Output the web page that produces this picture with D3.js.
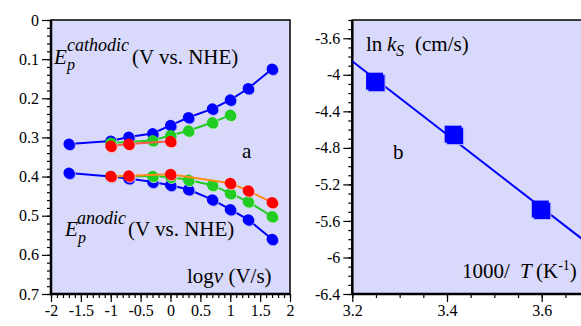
<!DOCTYPE html>
<html>
<head>
<meta charset="utf-8">
<script src="https://cdn.jsdelivr.net/npm/d3@7"></script>
<style>
  body { margin: 0; background: #fff; }
  svg text { font-family: "Liberation Serif", "Times New Roman", serif !important; fill: #000; }
</style>
</head>
<body>
<script>
// ---- data (panel a): peak potential vs log scan rate ----
const logV      = [-1.7, -1, -0.7, -0.3, 0, 0.3, 0.7, 1, 1.3, 1.7];
const blueCath  = [0.317, 0.309, 0.299, 0.290, 0.269, 0.249, 0.227, 0.204, 0.175, 0.125];
const blueAnod  = [0.391, 0.400, 0.405, 0.414, 0.422, 0.433, 0.459, 0.484, 0.510, 0.560];

const greenCathV = [-1, -0.3, 0, 0.3, 0.7, 1];
const greenCath  = [0.314, 0.308, 0.295, 0.283, 0.262, 0.243];
const greenAnodV = [-1, -0.3, 0, 0.3, 0.7, 1, 1.3, 1.7];
const greenAnod  = [0.399, 0.399, 0.401, 0.409, 0.422, 0.443, 0.464, 0.502];

const redCathV = [-1, -0.7, 0];
const redCath  = [0.322, 0.317, 0.310];
const redAnodV = [-1, -0.7, 0, 1, 1.3, 1.7];
const redAnod  = [0.399, 0.398, 0.394, 0.417, 0.436, 0.466];

// ---- data (panel b): ln ks vs 1000/T ----
const invT = [3.247, 3.413, 3.597];
const lnKs = [-4.07, -4.65, -5.47];

// tick labels
const aXTicks = [-2, -1.5, -1, -0.5, 0, 0.5, 1, 1.5, 2];
const aYTicks = [0, 0.1, 0.2, 0.3, 0.4, 0.5, 0.6, 0.7];
const bXTicks = [3.2, 3.4, 3.6];
const bYTicks = [-6.4, -6, -5.6, -5.2, -4.8, -4.4, -4, -3.6];

const W = 581, H = 326;
const bg = "#d9d9fb";
const serif = "'Liberation Serif', 'Times New Roman', serif";

const svg = d3.select("body").append("svg")
  .attr("width", W).attr("height", H);

// scales
const xA = d3.scaleLinear().domain([-2, 2]).range([51, 290]);
const yA = d3.scaleLinear().domain([0, 0.7]).range([20, 294]);
const xB = d3.scaleLinear().domain([3.2, 3.8]).range([352.3, 352.3 + 0.6 * 473.5]);
const yB = d3.scaleLinear().domain([-6.4, -3.4]).range([294, 20]);

function steps(a, b, s) {
  const n = Math.round((b - a) / s);
  return d3.range(n + 1).map(i => a + i * s);
}

function panel(x, y, xt, yt, xMinor, yMinor, id) {
  const [x0, x1] = x.range();
  const top = Math.min(...y.range()), bot = Math.max(...y.range());
  svg.append("rect")
    .attr("x", x0).attr("y", top)
    .attr("width", x1 - x0).attr("height", bot - top)
    .attr("fill", bg).attr("stroke", "#000").attr("stroke-width", 1.5);

  svg.append("clipPath").attr("id", id)
    .append("rect").attr("x", x0).attr("y", top)
    .attr("width", x1 - x0).attr("height", bot - top);

  const gx = svg.append("g").attr("transform", `translate(0,${bot})`);
  gx.call(d3.axisBottom(x).tickValues(xMinor).tickSize(4).tickFormat(""));
  gx.select(".domain").remove();
  const gx2 = svg.append("g").attr("transform", `translate(0,${bot})`);
  gx2.call(d3.axisBottom(x).tickValues(xt).tickSize(8).tickPadding(3).tickFormat(d => String(d)));
  gx2.select(".domain").remove();

  const gy = svg.append("g").attr("transform", `translate(${x0},0)`);
  gy.call(d3.axisLeft(y).tickValues(yMinor).tickSize(4).tickFormat(""));
  gy.select(".domain").remove();
  const gy2 = svg.append("g").attr("transform", `translate(${x0},0)`);
  gy2.call(d3.axisLeft(y).tickValues(yt).tickSize(9).tickPadding(3).tickFormat(d => String(d)));
  gy2.select(".domain").remove();

  [gx, gx2, gy, gy2].forEach(g => g.attr("font-family", serif).attr("font-size", 16));
  svg.selectAll(".tick text").style("font-family", serif).attr("font-size", 16);
  svg.selectAll(".tick line").attr("stroke-width", 1.2);

  // heavy left + bottom axis lines
  svg.append("line").attr("x1", x0).attr("x2", x0).attr("y1", top).attr("y2", bot + 1)
    .attr("stroke", "#000").attr("stroke-width", 2.5);
  svg.append("line").attr("x1", x0 - 1).attr("x2", x1).attr("y1", bot).attr("y2", bot)
    .attr("stroke", "#000").attr("stroke-width", 2.5);
}

panel(xA, yA, aXTicks, aYTicks, steps(-2, 2, 0.1), steps(0, 0.7, 0.02), "clipA");
panel(xB, yB, bXTicks, bYTicks, steps(3.2, 3.8, 0.05), steps(-6.4, -3.4, 0.1), "clipB");

// ---- panel a series ----
const gA = svg.append("g").attr("clip-path", "url(#clipA)");

function series(xs, ys, lineColor, dotColor, ring) {
  const pts = xs.map((v, i) => [xA(v), yA(ys[i])]);
  gA.append("path")
    .attr("d", d3.line()(pts))
    .attr("fill", "none").attr("stroke", lineColor).attr("stroke-width", 2);
  const g = gA.append("g");
  g.selectAll(".sh").data(pts).join("circle")
    .attr("cx", d => d[0] + 1.2).attr("cy", d => d[1] + 1.2).attr("r", 5.3)
    .attr("fill", dotColor).attr("stroke", ring).attr("stroke-width", 0.9);
  g.selectAll(".dot").data(pts).join("circle")
    .attr("cx", d => d[0]).attr("cy", d => d[1]).attr("r", 5.5)
    .attr("fill", dotColor);
}

series(logV, blueCath, "#0000ff", "#0000ff", "#b8b8ff");
series(logV, blueAnod, "#0000ff", "#0000ff", "#b8b8ff");
series(greenCathV, greenCath, "#22cc22", "#22cc22", "#c8f0c8");
series(greenAnodV, greenAnod, "#22cc22", "#22cc22", "#c8f0c8");
series(redCathV, redCath, "#ff5a4a", "#ff0000", "#ffc8c8");
series(redAnodV, redAnod, "#ff8c1a", "#ff0000", "#ffc8c8");

// ---- panel b: linear fit + squares ----
const mx = d3.mean(invT), my = d3.mean(lnKs);
const slope = d3.sum(invT, (v, i) => (v - mx) * (lnKs[i] - my)) / d3.sum(invT, v => (v - mx) ** 2);
const icpt = my - slope * mx;

const gB = svg.append("g").attr("clip-path", "url(#clipB)");
gB.append("path")
  .attr("d", d3.line()(xB.domain().map(v => [xB(v), yB(icpt + slope * v)])))
  .attr("fill", "none").attr("stroke", "#0000ff").attr("stroke-width", 2);

const sq = 17;
const pb = invT.map((v, i) => [xB(v), yB(lnKs[i])]);
gB.selectAll(".sqs").data(pb).join("rect")
  .attr("x", d => d[0] - sq / 2 + 2).attr("y", d => d[1] - sq / 2 + 2)
  .attr("width", sq).attr("height", sq)
  .attr("fill", "#0000ff").attr("stroke", "#b8b8ff").attr("stroke-width", 1);
gB.selectAll(".sq").data(pb).join("rect")
  .attr("x", d => d[0] - sq / 2).attr("y", d => d[1] - sq / 2)
  .attr("width", sq).attr("height", sq)
  .attr("fill", "#0000ff");

// ---- labels ----
function label(x, y, parts) {
  const t = svg.append("text").attr("x", x).attr("y", y).attr("font-size", 21);
  parts.forEach(p => {
    const s = t.append("tspan").text(p.t);
    if (p.x != null) s.attr("x", p.x);
    if (p.y != null) s.attr("y", p.y);
    if (p.i) s.attr("font-style", "italic");
    if (p.fs) s.attr("font-size", p.fs);
  });
}

label(54, 64, [
  { t: "E", i: true },
  { t: "p", i: true, fs: 16, x: 67, y: 70 },
  { t: "cathodic", i: true, fs: 18, x: 67, y: 51 },
  { t: "(V vs. NHE)", x: 132, y: 64 }
]);
label(65, 236, [
  { t: "E", i: true },
  { t: "p", i: true, fs: 16, x: 78, y: 243 },
  { t: "anodic", i: true, fs: 18, x: 77, y: 224 },
  { t: "(V vs. NHE)", x: 128, y: 236 }
]);
label(242, 158, [{ t: "a" }]);
label(187, 283, [{ t: "log" }, { t: "v", i: true }, { t: " (V/s)" }]);

label(366, 51, [
  { t: "ln" },
  { t: "k", i: true, x: 387 },
  { t: "S", i: true, fs: 16, x: 396, y: 56 },
  { t: "(cm/s)", x: 415, y: 51 }
]);
label(393, 159, [{ t: "b" }]);
label(462, 278, [
  { t: "1000/" },
  { t: "T", i: true, x: 520 },
  { t: "(K", x: 536 },
  { t: "-1", fs: 14, y: 270 },
  { t: ")", y: 278 }
]);
</script>
</body>
</html>
